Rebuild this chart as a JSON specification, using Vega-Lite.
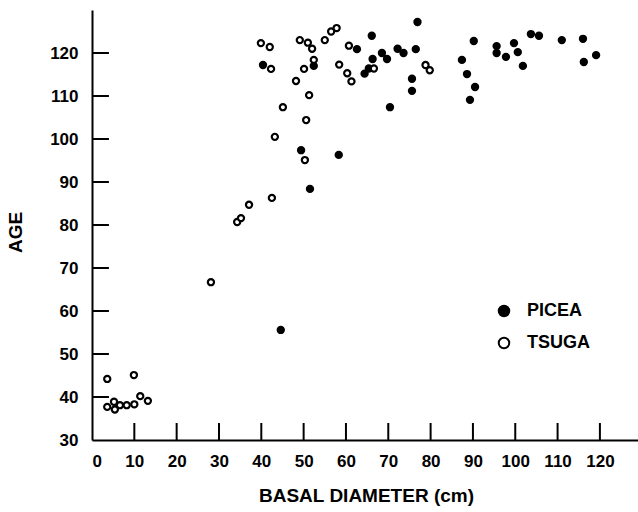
{
  "$schema": "https://vega.github.io/schema/vega-lite/v6.json",
  "width": 546,
  "height": 430,
  "autosize": "none",
  "padding": {"left": 92, "top": 10, "right": 0, "bottom": 72},
  "background": "white",
  "config": {
    "view": {"stroke": null},
    "font": "Liberation Sans",
    "axis": {
      "grid": false,
      "domainColor": "black",
      "domainWidth": 2,
      "labelFont": "Liberation Sans",
      "labelFontWeight": "bold",
      "labelFontSize": 17,
      "labelColor": "black",
      "titleFont": "Liberation Sans",
      "titleFontWeight": "bold",
      "titleFontSize": 19,
      "titleColor": "black"
    }
  },
  "layer": [
    {
      "data": {"values": [
        {"diameter": 10}, {"diameter": 20}, {"diameter": 30}, {"diameter": 40},
        {"diameter": 50}, {"diameter": 60}, {"diameter": 70}, {"diameter": 80},
        {"diameter": 90}, {"diameter": 100}, {"diameter": 110}, {"diameter": 120}
      ]},
      "mark": {"type": "rule", "color": "black", "strokeWidth": 2},
      "encoding": {
        "x": {
          "field": "diameter",
          "type": "quantitative",
          "scale": {"domain": [0, 129], "nice": false, "zero": false},
          "axis": {
            "values": [0, 10, 20, 30, 40, 50, 60, 70, 80, 90, 100, 110, 120],
            "ticks": false,
            "labelPadding": 13,
            "title": "BASAL DIAMETER (cm)",
            "titleX": 274,
            "titleY": 55,
            "titleBaseline": "middle",
            "titleAlign": "center"
          }
        },
        "y": {
          "datum": 30,
          "type": "quantitative",
          "scale": {"domain": [30, 130], "nice": false, "zero": false},
          "axis": {
            "values": [30, 40, 50, 60, 70, 80, 90, 100, 110, 120],
            "ticks": false,
            "labelPadding": 14,
            "title": "AGE",
            "titleAngle": -90,
            "titleX": -77,
            "titleY": 222,
            "titleBaseline": "middle",
            "titleAlign": "center"
          }
        },
        "y2": {"datum": 33.95}
      }
    },
    {
      "data": {"values": [
        {"age": 40}, {"age": 50}, {"age": 60}, {"age": 70}, {"age": 80},
        {"age": 90}, {"age": 100}, {"age": 110}, {"age": 120}
      ]},
      "mark": {"type": "rule", "color": "black", "strokeWidth": 2},
      "encoding": {
        "y": {
          "field": "age",
          "type": "quantitative",
          "scale": {"domain": [30, 130], "nice": false, "zero": false},
          "axis": {
            "values": [30, 40, 50, 60, 70, 80, 90, 100, 110, 120],
            "ticks": false,
            "labelPadding": 14,
            "title": "AGE",
            "titleAngle": -90,
            "titleX": -77,
            "titleY": 222,
            "titleBaseline": "middle",
            "titleAlign": "center"
          }
        },
        "x": {
          "datum": 0,
          "type": "quantitative",
          "scale": {"domain": [0, 129], "nice": false, "zero": false},
          "axis": {
            "values": [0, 10, 20, 30, 40, 50, 60, 70, 80, 90, 100, 110, 120],
            "ticks": false,
            "labelPadding": 13,
            "title": "BASAL DIAMETER (cm)",
            "titleX": 274,
            "titleY": 55,
            "titleBaseline": "middle",
            "titleAlign": "center"
          }
        },
        "x2": {"datum": 4.0}
      }
    },
    {
      "data": {
        "values": [
          {"species": "PICEA", "diameter": 44.6, "age": 55.6},
          {"species": "PICEA", "diameter": 40.4, "age": 117.2},
          {"species": "PICEA", "diameter": 49.4, "age": 97.4},
          {"species": "PICEA", "diameter": 51.5, "age": 88.4},
          {"species": "PICEA", "diameter": 52.4, "age": 117.0},
          {"species": "PICEA", "diameter": 58.3, "age": 96.3},
          {"species": "PICEA", "diameter": 62.6, "age": 120.9},
          {"species": "PICEA", "diameter": 66.1, "age": 124.0},
          {"species": "PICEA", "diameter": 64.4, "age": 115.2},
          {"species": "PICEA", "diameter": 65.4, "age": 116.4},
          {"species": "PICEA", "diameter": 66.3, "age": 118.6},
          {"species": "PICEA", "diameter": 68.5, "age": 120.0},
          {"species": "PICEA", "diameter": 69.7, "age": 118.6},
          {"species": "PICEA", "diameter": 70.4, "age": 107.4},
          {"species": "PICEA", "diameter": 72.2, "age": 121.0},
          {"species": "PICEA", "diameter": 73.6, "age": 120.0},
          {"species": "PICEA", "diameter": 76.9, "age": 127.2},
          {"species": "PICEA", "diameter": 76.5, "age": 120.9},
          {"species": "PICEA", "diameter": 75.6, "age": 114.0},
          {"species": "PICEA", "diameter": 75.6, "age": 111.2},
          {"species": "PICEA", "diameter": 87.4, "age": 118.4},
          {"species": "PICEA", "diameter": 88.6, "age": 115.1},
          {"species": "PICEA", "diameter": 90.5, "age": 112.1},
          {"species": "PICEA", "diameter": 89.3, "age": 109.1},
          {"species": "PICEA", "diameter": 90.2, "age": 122.8},
          {"species": "PICEA", "diameter": 95.6, "age": 121.6},
          {"species": "PICEA", "diameter": 95.6, "age": 120.0},
          {"species": "PICEA", "diameter": 97.8, "age": 119.1},
          {"species": "PICEA", "diameter": 99.7, "age": 122.3},
          {"species": "PICEA", "diameter": 100.6, "age": 120.2},
          {"species": "PICEA", "diameter": 101.8, "age": 117.0},
          {"species": "PICEA", "diameter": 103.7, "age": 124.4},
          {"species": "PICEA", "diameter": 105.6, "age": 124.0},
          {"species": "PICEA", "diameter": 111.0, "age": 123.0},
          {"species": "PICEA", "diameter": 116.0, "age": 123.3},
          {"species": "PICEA", "diameter": 116.2, "age": 117.9},
          {"species": "PICEA", "diameter": 119.1, "age": 119.5},
          {"species": "TSUGA", "diameter": 3.6, "age": 44.2},
          {"species": "TSUGA", "diameter": 9.9, "age": 45.1},
          {"species": "TSUGA", "diameter": 3.6, "age": 37.7},
          {"species": "TSUGA", "diameter": 5.2, "age": 38.9},
          {"species": "TSUGA", "diameter": 5.4, "age": 37.1},
          {"species": "TSUGA", "diameter": 6.6, "age": 38.1},
          {"species": "TSUGA", "diameter": 8.2, "age": 38.1},
          {"species": "TSUGA", "diameter": 10.0, "age": 38.3},
          {"species": "TSUGA", "diameter": 11.4, "age": 40.2},
          {"species": "TSUGA", "diameter": 13.2, "age": 39.1},
          {"species": "TSUGA", "diameter": 28.1, "age": 66.7},
          {"species": "TSUGA", "diameter": 34.3, "age": 80.7},
          {"species": "TSUGA", "diameter": 35.2, "age": 81.6},
          {"species": "TSUGA", "diameter": 37.1, "age": 84.7},
          {"species": "TSUGA", "diameter": 42.5, "age": 86.3},
          {"species": "TSUGA", "diameter": 43.2, "age": 100.5},
          {"species": "TSUGA", "diameter": 50.3, "age": 95.1},
          {"species": "TSUGA", "diameter": 50.6, "age": 104.4},
          {"species": "TSUGA", "diameter": 45.1, "age": 107.4},
          {"species": "TSUGA", "diameter": 51.3, "age": 110.2},
          {"species": "TSUGA", "diameter": 48.2, "age": 113.5},
          {"species": "TSUGA", "diameter": 39.9, "age": 122.3},
          {"species": "TSUGA", "diameter": 42.0, "age": 121.4},
          {"species": "TSUGA", "diameter": 42.3, "age": 116.3},
          {"species": "TSUGA", "diameter": 49.1, "age": 123.0},
          {"species": "TSUGA", "diameter": 51.0, "age": 122.4},
          {"species": "TSUGA", "diameter": 52.0, "age": 121.0},
          {"species": "TSUGA", "diameter": 52.4, "age": 118.4},
          {"species": "TSUGA", "diameter": 50.1, "age": 116.3},
          {"species": "TSUGA", "diameter": 55.0, "age": 123.0},
          {"species": "TSUGA", "diameter": 56.5, "age": 125.0},
          {"species": "TSUGA", "diameter": 57.8, "age": 125.8},
          {"species": "TSUGA", "diameter": 60.7, "age": 121.7},
          {"species": "TSUGA", "diameter": 58.4, "age": 117.3},
          {"species": "TSUGA", "diameter": 60.3, "age": 115.3},
          {"species": "TSUGA", "diameter": 61.3, "age": 113.4},
          {"species": "TSUGA", "diameter": 66.6, "age": 116.4},
          {"species": "TSUGA", "diameter": 78.8, "age": 117.2},
          {"species": "TSUGA", "diameter": 79.8, "age": 116.0}
        ]
      },
      "mark": {"type": "circle", "opacity": 1, "stroke": "black", "strokeWidth": 2.2, "size": 38},
      "encoding": {
        "x": {
          "field": "diameter",
          "type": "quantitative",
          "scale": {"domain": [0, 129], "nice": false, "zero": false},
          "axis": {
            "values": [0, 10, 20, 30, 40, 50, 60, 70, 80, 90, 100, 110, 120],
            "ticks": false,
            "labelPadding": 13,
            "title": "BASAL DIAMETER (cm)",
            "titleX": 274,
            "titleY": 55,
            "titleBaseline": "middle",
            "titleAlign": "center"
          }
        },
        "y": {
          "field": "age",
          "type": "quantitative",
          "scale": {"domain": [30, 130], "nice": false, "zero": false},
          "axis": {
            "values": [30, 40, 50, 60, 70, 80, 90, 100, 110, 120],
            "ticks": false,
            "labelPadding": 14,
            "title": "AGE",
            "titleAngle": -90,
            "titleX": -77,
            "titleY": 222,
            "titleBaseline": "middle",
            "titleAlign": "center"
          }
        },
        "fill": {
          "field": "species",
          "type": "nominal",
          "scale": {"domain": ["PICEA", "TSUGA"], "range": ["black", "white"]},
          "legend": {
            "title": null,
            "orient": "none",
            "legendX": 403,
            "legendY": 292,
            "padding": 0,
            "symbolType": "circle",
            "symbolSize": 110,
            "symbolStrokeColor": "black",
            "symbolStrokeWidth": 2,
            "symbolOpacity": 1,
            "labelFont": "Liberation Sans",
            "labelFontWeight": "bold",
            "labelFontSize": 18,
            "labelColor": "black",
            "labelOffset": 14,
            "rowPadding": 12
          }
        }
      }
    }
  ]
}
